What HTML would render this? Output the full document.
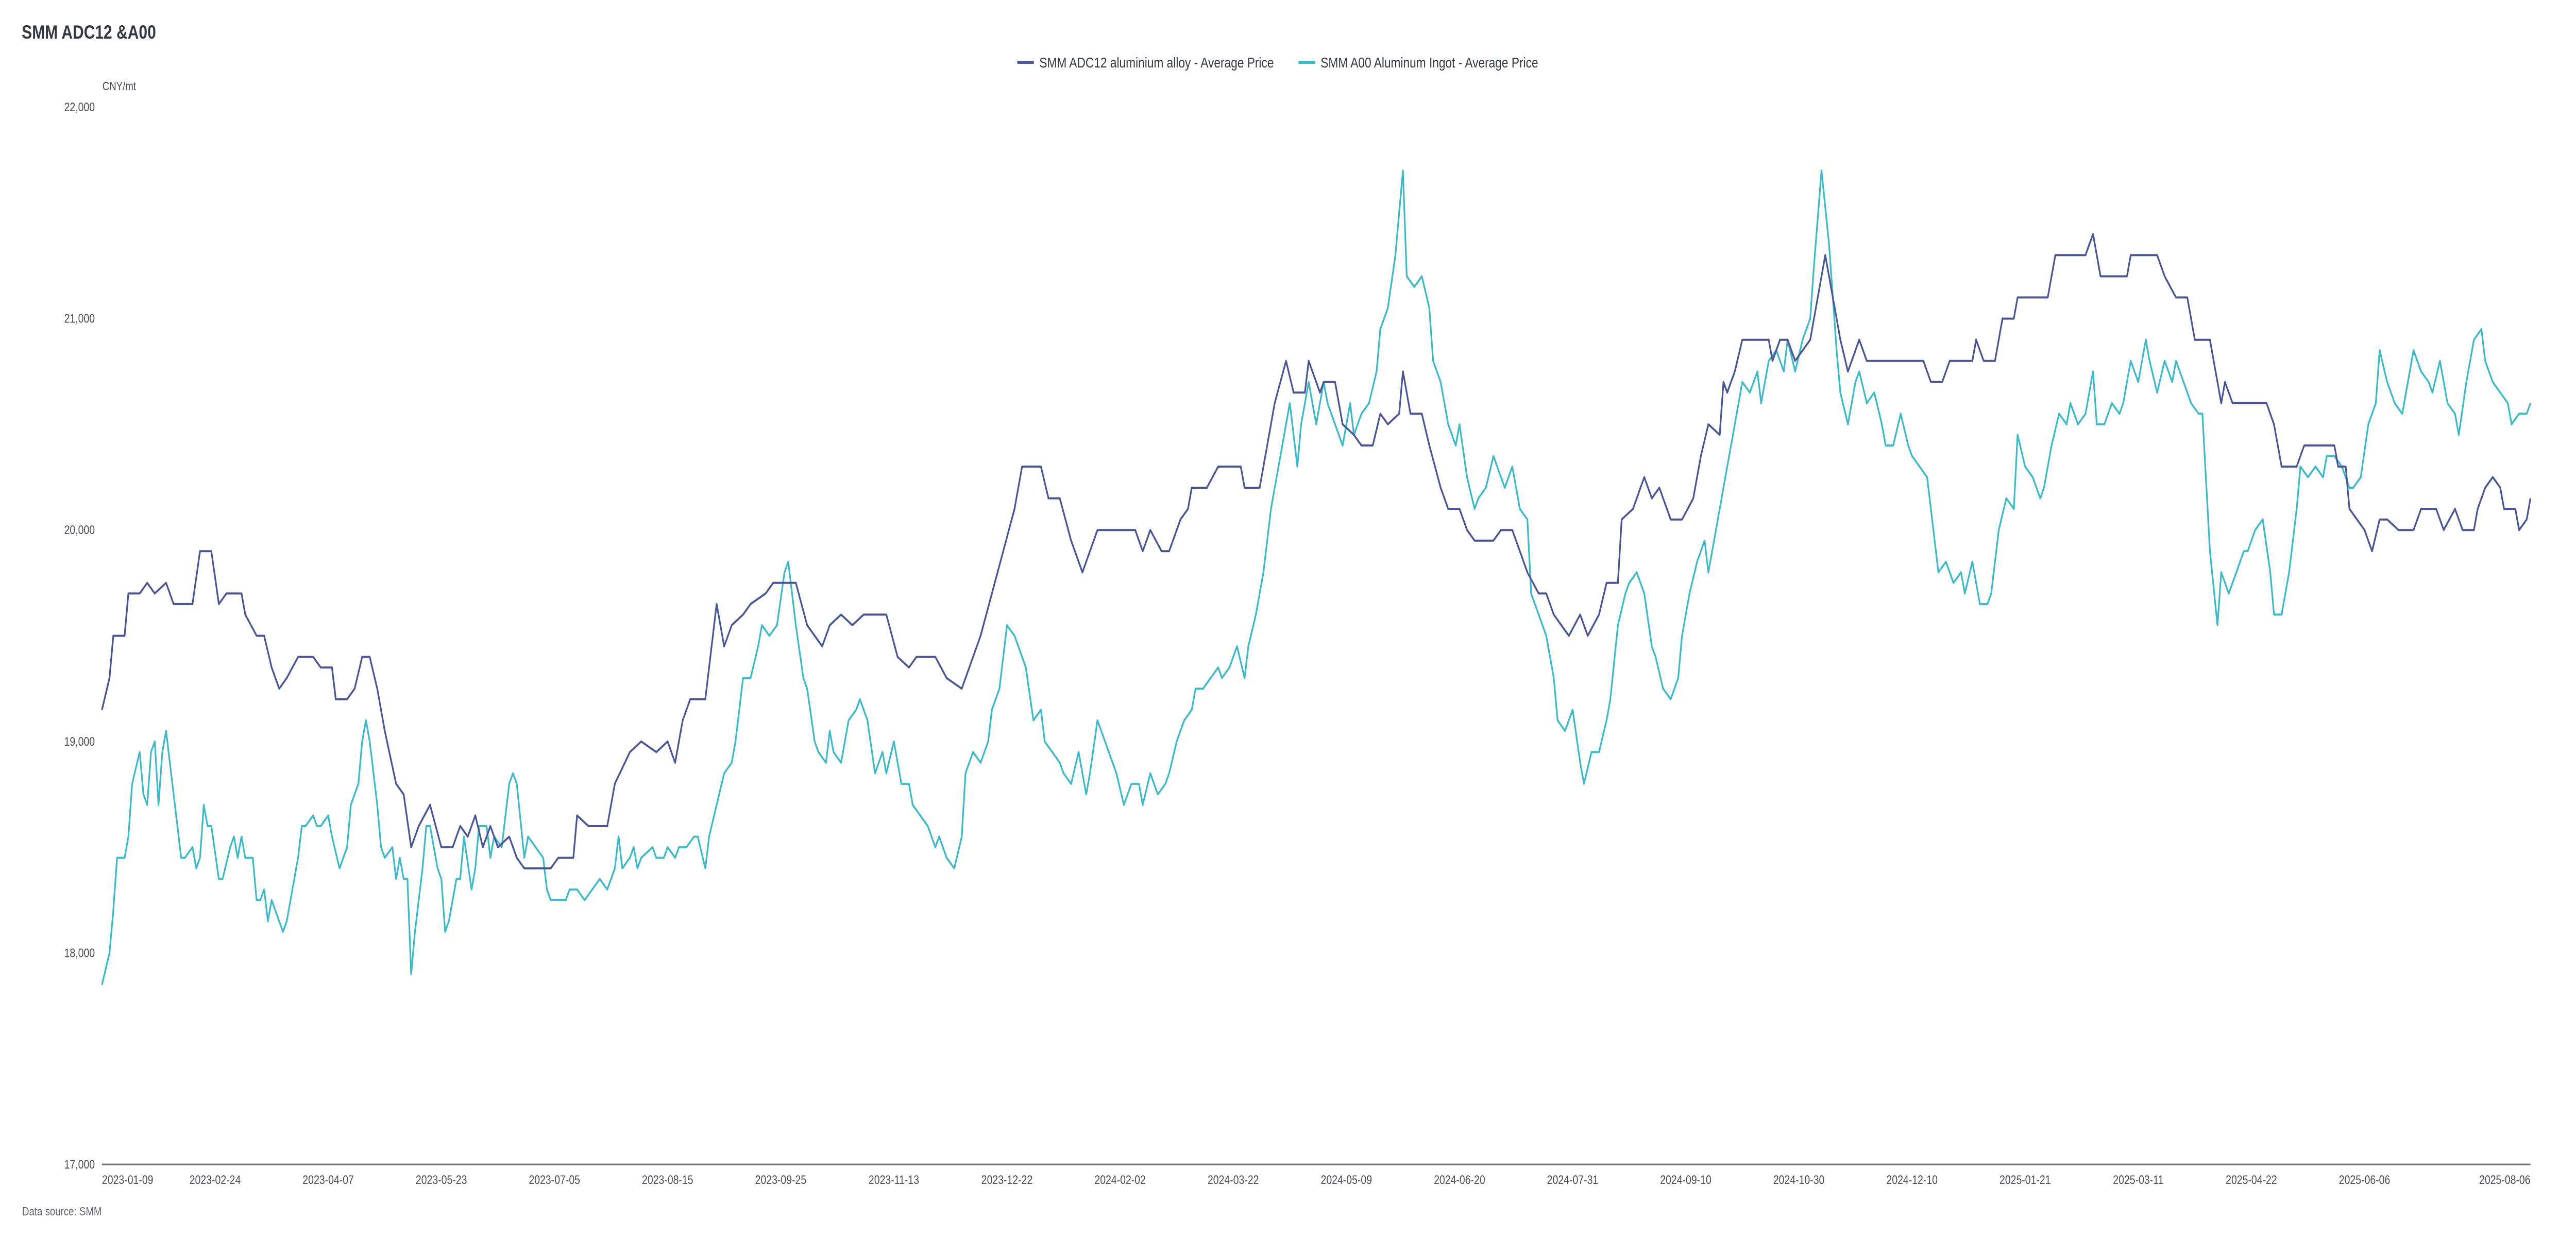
<!DOCTYPE html>
<html><head><meta charset="utf-8"><style>
html,body{margin:0;padding:0;background:#fff;width:100%;height:100%;overflow:hidden;}
body{font-family:"Liberation Sans",sans-serif;}
#chart{display:block;width:100vw;height:100vh;}
svg text{font-family:"Liberation Sans",sans-serif;}
</style></head><body>
<svg id="chart" viewBox="0 0 6164 2400" preserveAspectRatio="none" xmlns="http://www.w3.org/2000/svg">
<text x="52" y="75" font-size="37" font-weight="bold" fill="#333845">SMM ADC12 &amp;A00</text>
<text x="245" y="175" font-size="23" fill="#464a56">CNY/mt</text>
<g>
 <g>
  <rect x="2434" y="118" width="40" height="6" rx="2" fill="#4a5596"/>
  <text x="2487" y="131" font-size="28" fill="#333845">SMM ADC12 aluminium alloy - Average Price</text>
 </g>
 <g>
  <rect x="3107" y="118" width="40" height="6" rx="2" fill="#3fb8c8"/>
  <text x="3160" y="131" font-size="28" fill="#333845">SMM A00 Aluminum Ingot - Average Price</text>
 </g>
</g>
<g id="yaxis"></g>
<g id="xaxis"></g>
<g id="series"></g>
<text x="53" y="2360" font-size="23" fill="#5e6472">Data source:  SMM</text>
</svg>
<script>
const yTicks = [17000, 18000, 19000, 20000, 21000, 22000];
const xTickIdx = [0,30,60,90,120,150,180,210,240,270,300,330,360,390,420,450,480,510,540,570,600];
const xTickLabels = ["2023-01-09","2023-02-24","2023-04-07","2023-05-23","2023-07-05","2023-08-15","2023-09-25","2023-11-13","2023-12-22","2024-02-02","2024-03-22","2024-05-09","2024-06-20","2024-07-31","2024-09-10","2024-10-30","2024-12-10","2025-01-21","2025-03-11","2025-04-22","2025-06-06"];
const lastLabel = "2025-08-06";
const totalDays = 644;

const adcDay = [0,2,3,6,7,10,12,14,17,19,24,26,29,31,33,37,38,41,43,45,47,49,52,56,58,61,62,65,67,69,71,73,75,78,80,82,84,87,90,93,95,97,99,101,103,105,108,110,112,119,121,125,126,129,134,136,140,143,147,150,152,154,156,160,163,165,167,170,172,176,178,184,187,189,191,193,196,199,202,208,211,214,216,221,224,228,230,233,236,239,242,244,249,251,254,257,260,262,264,274,276,278,281,283,286,288,289,293,296,302,303,307,309,311,314,316,319,320,323,324,327,329,332,334,337,339,341,344,345,347,350,352,355,357,360,362,364,369,371,374,376,378,381,383,385,387,389,392,394,397,399,402,403,406,408,409,411,413,416,419,422,424,426,429,430,431,433,435,442,443,445,447,449,453,455,457,459,461,463,466,468,483,485,488,490,496,497,499,502,504,507,508,516,518,526,528,530,537,538,545,547,550,553,555,559,560,562,563,565,574,576,578,582,584,592,593,595,596,600,602,604,606,609,613,615,619,621,624,626,629,630,632,634,636,637,640,641,643,644];
const adcVal = [19150,19300,19500,19500,19700,19700,19750,19700,19750,19650,19650,19900,19900,19650,19700,19700,19600,19500,19500,19350,19250,19300,19400,19400,19350,19350,19200,19200,19250,19400,19400,19250,19050,18800,18750,18500,18600,18700,18500,18500,18600,18550,18650,18500,18600,18500,18550,18450,18400,18400,18450,18450,18650,18600,18600,18800,18950,19000,18950,19000,18900,19100,19200,19200,19650,19450,19550,19600,19650,19700,19750,19750,19550,19500,19450,19550,19600,19550,19600,19600,19400,19350,19400,19400,19300,19250,19350,19500,19700,19900,20100,20300,20300,20150,20150,19950,19800,19900,20000,20000,19900,20000,19900,19900,20050,20100,20200,20200,20300,20300,20200,20200,20400,20600,20800,20650,20650,20800,20650,20700,20700,20500,20450,20400,20400,20550,20500,20550,20750,20550,20550,20400,20200,20100,20100,20000,19950,19950,20000,20000,19900,19800,19700,19700,19600,19550,19500,19600,19500,19600,19750,19750,20050,20100,20200,20250,20150,20200,20050,20050,20150,20350,20500,20450,20700,20650,20750,20900,20900,20800,20900,20900,20800,20900,21100,21300,21100,20900,20750,20900,20800,20800,20700,20700,20800,20800,20900,20800,20800,21000,21000,21100,21100,21300,21300,21400,21200,21200,21300,21300,21200,21100,21100,20900,20900,20800,20600,20700,20600,20600,20500,20300,20300,20400,20400,20300,20300,20100,20000,19900,20050,20050,20000,20000,20100,20100,20000,20100,20000,20000,20100,20200,20250,20200,20100,20100,20000,20050,20150];

const a00Day = [0,2,3,4,6,7,8,10,11,12,13,14,15,16,17,18,20,21,22,24,25,26,27,28,29,31,32,34,35,36,37,38,40,41,42,43,44,45,47,48,49,51,52,53,54,56,57,58,60,61,63,65,66,68,69,70,71,72,73,74,75,77,78,79,80,81,82,83,85,86,87,89,90,91,92,94,95,96,98,99,100,102,103,104,106,108,109,110,112,113,115,117,118,119,121,123,124,126,128,130,132,134,136,137,138,140,141,142,143,146,147,149,150,152,153,155,157,158,160,161,163,165,167,168,170,172,174,175,177,179,181,182,184,186,187,189,190,192,193,194,196,198,200,201,203,205,207,208,210,212,214,215,217,219,221,222,224,226,228,229,231,233,235,236,238,240,242,243,245,247,249,250,252,254,255,257,259,261,262,264,266,268,269,271,273,275,276,278,280,282,283,285,287,289,290,292,294,296,297,299,301,303,304,306,308,310,311,313,315,317,318,320,322,324,325,327,329,331,332,334,336,338,339,341,343,345,346,348,350,352,353,355,357,359,360,362,364,365,367,369,371,372,374,376,378,379,381,383,385,386,388,390,392,393,395,397,399,400,402,404,405,407,409,411,412,414,416,418,419,421,423,425,426,428,430,432,433,435,437,439,440,442,444,446,447,449,451,453,454,456,458,460,461,463,465,466,468,470,472,473,475,477,479,480,482,484,486,487,489,491,493,494,496,498,500,501,503,505,507,508,510,512,514,515,517,519,521,522,524,526,528,529,531,533,535,536,538,540,542,543,545,547,549,550,552,554,556,557,559,561,562,564,566,568,569,571,573,575,576,578,580,582,583,585,587,589,590,592,594,596,597,599,601,603,604,606,608,610,611,613,615,617,618,620,622,624,625,627,629,631,632,634,636,638,639,641,643,644];
const a00Val = [17850,18000,18200,18450,18450,18550,18800,18950,18750,18700,18950,19000,18700,18950,19050,18900,18600,18450,18450,18500,18400,18450,18700,18600,18600,18350,18350,18500,18550,18450,18550,18450,18450,18250,18250,18300,18150,18250,18150,18100,18150,18350,18450,18600,18600,18650,18600,18600,18650,18550,18400,18500,18700,18800,19000,19100,19000,18850,18700,18500,18450,18500,18350,18450,18350,18350,17900,18100,18400,18600,18600,18400,18350,18100,18150,18350,18350,18550,18300,18400,18600,18600,18450,18550,18500,18800,18850,18800,18450,18550,18500,18450,18300,18250,18250,18250,18300,18300,18250,18300,18350,18300,18400,18550,18400,18450,18500,18400,18450,18500,18450,18450,18500,18450,18500,18500,18550,18550,18400,18550,18700,18850,18900,19000,19300,19300,19450,19550,19500,19550,19800,19850,19550,19300,19250,19000,18950,18900,19050,18950,18900,19100,19150,19200,19100,18850,18950,18850,19000,18800,18800,18700,18650,18600,18500,18550,18450,18400,18550,18850,18950,18900,19000,19150,19250,19550,19500,19450,19350,19100,19150,19000,18950,18900,18850,18800,18950,18750,18850,19100,19000,18900,18850,18700,18800,18800,18700,18850,18750,18800,18850,19000,19100,19150,19250,19250,19300,19350,19300,19350,19450,19300,19450,19600,19800,20100,20200,20400,20600,20300,20500,20700,20500,20700,20600,20500,20400,20600,20450,20550,20600,20750,20950,21050,21300,21700,21200,21150,21200,21050,20800,20700,20500,20400,20500,20250,20100,20150,20200,20350,20250,20200,20300,20100,20050,19700,19600,19500,19300,19100,19050,19150,18900,18800,18950,18950,19100,19200,19550,19700,19750,19800,19700,19450,19400,19250,19200,19300,19500,19700,19850,19950,19800,20000,20200,20400,20500,20700,20650,20750,20600,20800,20850,20750,20900,20750,20900,21000,21250,21700,21350,20850,20650,20500,20700,20750,20600,20650,20500,20400,20400,20550,20400,20350,20300,20250,19950,19800,19850,19750,19800,19700,19850,19650,19650,19700,20000,20150,20100,20450,20300,20250,20150,20200,20400,20550,20500,20600,20500,20550,20750,20500,20500,20600,20550,20600,20800,20700,20900,20800,20650,20800,20700,20800,20700,20600,20550,20550,19900,19550,19800,19700,19800,19900,19900,20000,20050,19800,19600,19600,19800,20100,20300,20250,20300,20250,20350,20350,20300,20200,20200,20250,20500,20600,20850,20700,20600,20550,20650,20850,20750,20700,20650,20800,20600,20550,20450,20700,20900,20950,20800,20700,20650,20600,20500,20550,20550,20600];

const NS = "http://www.w3.org/2000/svg";
const plotL = 244, plotR = 6055, plotT = 208, plotB = 2261;
const yMin = 17000, yMax = 22000;
function xScale(d){ return plotL + d / totalDays * (plotR - plotL); }
function yScale(v){ return plotB - (v - yMin) / (yMax - yMin) * (plotB - plotT); }
function mk(tag, attrs){ const e = document.createElementNS(NS, tag); for (const k in attrs) e.setAttribute(k, attrs[k]); return e; }

const yaxis = document.getElementById('yaxis');
yTicks.forEach(v => {
  const t = mk('text', {x: 227, y: yScale(v) + 8, 'font-size': 24, fill: '#464a56', 'text-anchor': 'end'});
  
  
  t.textContent = v.toLocaleString('en-US');
  yaxis.appendChild(t);
});

const xaxis = document.getElementById('xaxis');
const axLine = mk('line', {x1: plotL, x2: plotR, y1: plotB, y2: plotB, stroke: '#6e7079', 'stroke-width': 3});


xaxis.appendChild(axLine);
xTickIdx.forEach((d, i) => {
  const t = mk('text', {x: xScale(d), y: 2299, 'font-size': 24, fill: '#464a56', 'text-anchor': i === 0 ? 'start' : 'middle'});
  
  
  t.textContent = xTickLabels[i];
  xaxis.appendChild(t);
});
const lt = mk('text', {x: xScale(totalDays), y: 2299, 'font-size': 24, fill: '#464a56', 'text-anchor': 'end'});


lt.textContent = lastLabel;
xaxis.appendChild(lt);

const series = document.getElementById('series');
function drawLine(days, vals, color, name){
  const pts = days.map((d, i) => xScale(d).toFixed(1) + ',' + yScale(vals[i]).toFixed(1)).join(' ');
  const p = mk('polyline', {points: pts, fill: 'none', stroke: color, 'stroke-width': 4, 'stroke-linejoin': 'round'});
  
  
  series.appendChild(p);
}
drawLine(a00Day, a00Val, '#3fb8c8', 'line-a00-ingot');
drawLine(adcDay, adcVal, '#4a5596', 'line-adc12-alloy');
</script>
</body></html>
